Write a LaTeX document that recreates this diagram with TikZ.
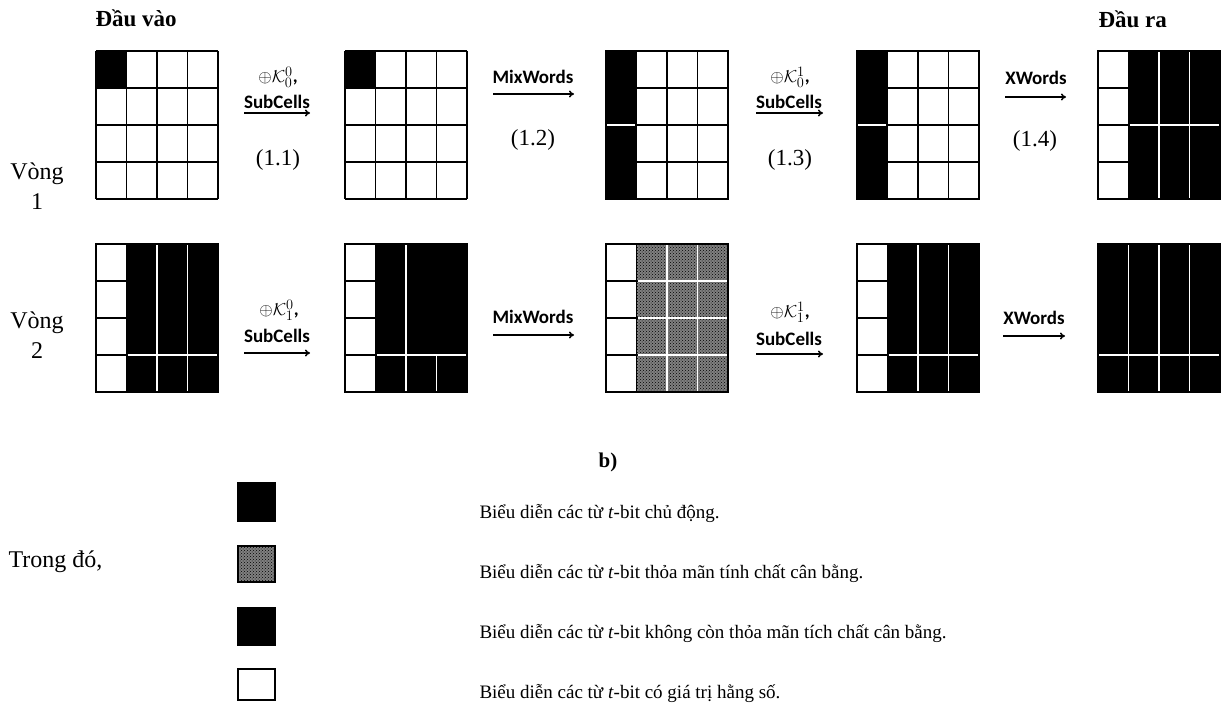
\documentclass[tikz,border=0pt]{standalone}
\usepackage{fontspec}
\setmainfont{Liberation Serif}
\newfontfamily\opfont{Carlito}
\usepackage{tikz}
\usetikzlibrary{positioning,arrows.meta,patterns}
\def\cw{30.5}
\def\ch{37}
\tikzset{
  gridline/.style={line width=1.7pt,draw=black},
  sepline/.style={line width=1.3pt,draw=white,shorten <=1.2pt,shorten >=1.2pt},
  act/.style={fill=black},
  unbal/.style={fill=black},
  bal/.style={preaction={fill=black!50},pattern=crosshatch dots,pattern color=black},
  const/.style={fill=white},
  arr/.style={-{To[length=5pt,width=7pt]},line width=1.5pt},
  oplab/.style={font=\opfont\bfseries\fontsize{19}{21}\selectfont,inner sep=0pt},
  steplab/.style={font=\fontsize{23}{25}\selectfont},
  head/.style={font=\bfseries\fontsize{23}{25}\selectfont},
  side/.style={font=\fontsize{24}{30}\selectfont,align=center},
  txt/.style={font=\fontsize{19}{26}\selectfont},
}
% one 4x4 state: origin, blocks r1/r2/c1/c2/style
\newcommand{\wordgrid}[3]{%
  \begin{scope}[shift={(#1,#2)}]
    \foreach \ra/\rb/\ca/\cb/\s in {#3}
      \path[\s] ({(\ca-1)*\cw},{(\ra-1)*\ch}) rectangle ({\cb*\cw},{\rb*\ch});
    \foreach \i in {0,...,4} {
      \draw[gridline] ({\i*\cw},0) -- ({\i*\cw},{4*\ch});
      \draw[gridline] (0,{\i*\ch}) -- ({4*\cw},{\i*\ch});
    }
  \end{scope}}
% white borders inside the dark part
\newcommand{\wordseps}[3]{%
  \begin{scope}[shift={(#1,#2)}]
    \foreach \xa/\ya/\xb/\yb in {#3}
      \draw[sepline] ({\xa*\cw},{\ya*\ch}) -- ({\xb*\cw},{\yb*\ch});
    \draw[gridline] (0,0) rectangle ({4*\cw},{4*\ch});
  \end{scope}}

\begin{document}
\begin{tikzpicture}[x=1pt,y=-1pt]
  \useasboundingbox (0,0) rectangle (1230,717);

  % headers and round labels
  \node[head,anchor=base west] (in) at (92,27) {Đầu vào};
  \node[head,anchor=base west] (out) at (1095,28) {Đầu ra};
  \node[side] (v1) at (37,186) {Vòng\\1};
  \node[side] (v2) at (37,335) {Vòng\\2};

  % round 1
  \wordgrid{96}{51}{1/1/1/1/act}
  \wordgrid{345}{51}{1/1/1/1/act}
  \wordgrid{606}{51}{1/4/1/1/act}
  \wordseps{606}{51}{0/2/1/2}
  \wordgrid{857}{51}{1/4/1/1/act}
  \wordseps{857}{51}{0/2/1/2}
  \wordgrid{1098}{51}{1/4/2/4/act}
  \wordseps{1098}{51}{2/0/2/4,3/0/3/4,1/2/4/2}

  % round 2
  \wordgrid{96}{244}{1/4/2/4/act}
  \wordseps{96}{244}{2/0/2/4,3/0/3/4,1/3/4/3}
  \wordgrid{345}{244}{1/4/2/4/act}
  \wordseps{345}{244}{2/0/2/4,3/3/3/4,1/3/4/3}
  \wordgrid{606}{244}{1/4/2/4/bal}
  \wordseps{606}{244}{2/0/2/4,3/0/3/4,1/1/4/1,1/2/4/2,1/3/4/3}
  \wordgrid{857}{244}{1/4/2/4/unbal}
  \wordseps{857}{244}{2/0/2/4,3/0/3/4,1/3/4/3}
  \wordgrid{1098}{244}{1/4/1/4/unbal}
  \wordseps{1098}{244}{1/0/1/4,2/0/2/4,3/0/3/4,0/3/4/3}

  % steps of round 1
  \coordinate (s11) at (244,113); \coordinate (e11) at (310,113);
  \coordinate (s12) at (493,94);  \coordinate (e12) at (574,94);
  \coordinate (s13) at (756,113); \coordinate (e13) at (823,113);
  \coordinate (s14) at (1005,97); \coordinate (e14) at (1066,97);
  \node[oplab] (k11) at (278,77) {$\oplus\mathcal{K}_0^0$,};
  \node[oplab] (c11) at (277,102) {SubCells};
  \node[oplab] (m12) at (533,77) {MixWords};
  \node[oplab] (k13) at (790,77) {$\oplus\mathcal{K}_0^1$,};
  \node[oplab] (c13) at (789,102) {SubCells};
  \node[oplab] (x14) at (1036,78) {XWords};
  \node[steplab] (n11) at (278,160) {(1.1)};
  \node[steplab] (n12) at (533,140) {(1.2)};
  \node[steplab] (n13) at (790,160) {(1.3)};
  \node[steplab] (n14) at (1035,141) {(1.4)};
  \foreach \i in {11,12,13,14}
    \draw[arr] (s\i) -- (e\i);

  % steps of round 2
  \coordinate (s21) at (244,353); \coordinate (e21) at (310,353);
  \coordinate (s22) at (493,335); \coordinate (e22) at (574,335);
  \coordinate (s23) at (756,354); \coordinate (e23) at (823,354);
  \coordinate (s24) at (1003,336); \coordinate (e24) at (1065,336);
  \node[oplab] (k21) at (279,310) {$\oplus\mathcal{K}_1^0$,};
  \node[oplab] (c21) at (277,336) {SubCells};
  \node[oplab] (m22) at (533,317) {MixWords};
  \node[oplab] (k23) at (790,312) {$\oplus\mathcal{K}_1^1$,};
  \node[oplab] (c23) at (789,339) {SubCells};
  \node[oplab] (x24) at (1034,318) {XWords};
  \foreach \i in {21,22,23,24}
    \draw[arr] (s\i) -- (e\i);

  % legend
  \node[font=\bfseries\fontsize{21}{23}\selectfont] (b) at (608,462) {b)};
  \node[side,anchor=base west] (where) at (5,567) {Trong đó,};
  \foreach \y/\h/\b/\s/\t in {
    483/38/518/act/{Biểu diễn các từ \textit{t}-bit chủ động.},
    546/36/578/bal/{Biểu diễn các từ \textit{t}-bit thỏa mãn tính chất cân bằng.},
    608/37/638/unbal/{Biểu diễn các từ \textit{t}-bit không còn thỏa mãn tích chất cân bằng.},
    669/31/698/const/{Biểu diễn các từ \textit{t}-bit có giá trị hằng số.}}
  {
    \path[\s,draw=black,line width=1.2pt] (238,\y) rectangle ++(37,\h);
    \node[txt,anchor=base west] (l\y) at (476,\b) {\t};
  }
\end{tikzpicture}
\end{document}
